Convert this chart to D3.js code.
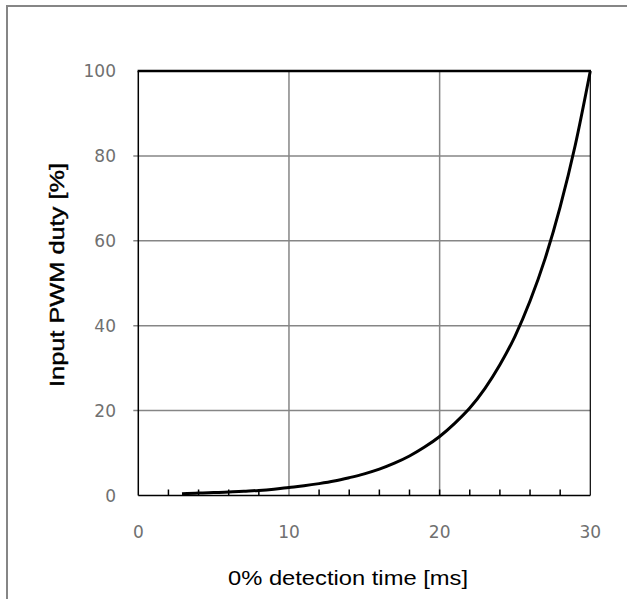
<!DOCTYPE html>
<html><head><meta charset="utf-8">
<script src="https://cdn.jsdelivr.net/npm/d3@7"></script>
<style>html,body{margin:0;padding:0;background:#fff;}svg{display:block;}</style>
</head><body>
<svg id="chart" width="627" height="599"></svg>
<script>
const timeMs = [2.9,4,5,6,7,8,9,10,11,12,13,14,15,16,17,18,19,20,21,22,23,24,25,26,27,28,29,30];
const dutyPct = [0.4,0.6,0.7,0.8,1.0,1.2,1.5,1.9,2.3,2.8,3.4,4.2,5.1,6.2,7.6,9.3,11.4,13.9,17.0,20.6,25.2,30.8,37.5,45.8,55.8,68.0,82.5,100];
const xTicks = [0,10,20,30];
const xMinorTicks = [2,4,6,8,12,14,16,18,22,24,26,28];
const yTicks = [0,20,40,60,80,100];
const xTitle = "0% detection time [ms]";
const yTitle = "Input PWM duty [%]";

const svg = d3.select("#chart");
const L = 138.3, R = 590.3, T = 71, B = 495.5;
const x = d3.scaleLinear().domain([0,30]).range([L,R]);
const y = d3.scaleLinear().domain([0,100]).range([B,T]);

// outer frame
svg.append("rect").attr("x",7).attr("y",6).attr("width",640).attr("height",640)
  .attr("fill","none").attr("stroke","#868686").attr("stroke-width",2);

// gridlines
const g = svg.append("g");
g.selectAll(".hg").data(yTicks.filter(d=>d>0&&d<100)).join("line")
  .attr("x1",L-5).attr("x2",R).attr("y1",d=>y(d)).attr("y2",d=>y(d))
  .attr("stroke","#868686").attr("stroke-width",1.5);
g.selectAll(".vg").data(xTicks.filter(d=>d>0&&d<30)).join("line")
  .attr("y1",T).attr("y2",B).attr("x1",d=>x(d)).attr("x2",d=>x(d))
  .attr("stroke","#868686").attr("stroke-width",1.5);

// minor x ticks (inside)
g.selectAll(".mt").data(xMinorTicks.concat([20])).join("line")
  .attr("x1",d=>x(d)).attr("x2",d=>x(d)).attr("y1",B).attr("y2",B-6)
  .attr("stroke","#000").attr("stroke-width",1.5);

// curve
const line = d3.line().x((d,i)=>x(timeMs[i])).y(d=>y(d)).curve(d3.curveMonotoneX);
svg.append("path").datum(dutyPct).attr("d",line).attr("fill","none")
  .attr("stroke","#000").attr("stroke-width",3).attr("stroke-linejoin","round");

// plot frame
svg.append("line").attr("x1",L).attr("x2",L).attr("y1",T).attr("y2",B).attr("stroke","#000").attr("stroke-width",1.5);
svg.append("line").attr("x1",R).attr("x2",R).attr("y1",T).attr("y2",B).attr("stroke","#000").attr("stroke-width",1.2);
svg.append("line").attr("x1",L).attr("x2",R).attr("y1",B).attr("y2",B).attr("stroke","#000").attr("stroke-width",1.5);
svg.append("line").attr("x1",L-0.7).attr("x2",R+0.7).attr("y1",T).attr("y2",T).attr("stroke","#000").attr("stroke-width",2.5);

// tick labels
svg.selectAll(".xl").data(xTicks).join("text")
  .attr("x",d=>x(d)).attr("y",538).attr("text-anchor","middle")
  .attr("font-family","DejaVu Sans").attr("font-size",17).attr("fill","#707070")
  .text(d=>d);
svg.selectAll(".yl").data(yTicks).join("text")
  .attr("x",116).attr("y",d=>y(d)+6).attr("text-anchor","end")
  .attr("font-family","DejaVu Sans").attr("font-size",17).attr("fill","#707070")
  .text(d=>d);

// titles
svg.append("text").attr("x",348).attr("y",585).attr("text-anchor","middle")
  .attr("font-family","Liberation Sans, Arial").attr("font-size",21).attr("fill","#000")
  .attr("textLength",240).attr("lengthAdjust","spacingAndGlyphs").text(xTitle);
svg.append("text").attr("transform","translate(64,275) rotate(-90)").attr("text-anchor","middle")
  .attr("font-family","Liberation Sans, Arial").attr("font-size",21).attr("fill","#000")
  .attr("stroke","#000").attr("stroke-width",0.4)
  .attr("textLength",224).attr("lengthAdjust","spacingAndGlyphs").text(yTitle);
</script>
</body></html>
